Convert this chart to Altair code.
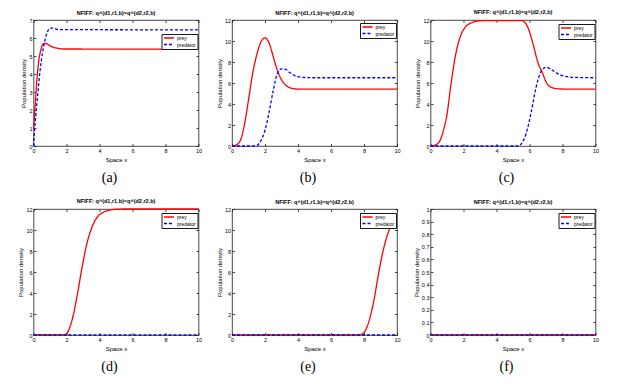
import altair as alt
import pandas as pd

FONT = "Liberation Sans"
TITLE = "NFIFF: q^(d1,r1,b)=q^(d2,r2,b)"
CAPTIONS = ["(a)", "(b)", "(c)", "(d)", "(e)", "(f)"]
SERIES = ["prey", "predator"]
COLORS = ["#ff0000", "#0000ff"]
DASHES = [[1, 0], [3, 2]]
X_TICKS = [0, 2, 4, 6, 8, 10]
Y_TICKS_A = [0, 1, 2, 3, 4, 5, 6, 7]
Y_TICKS_12 = [0, 2, 4, 6, 8, 10, 12]
Y_TICKS_F = [0, 0.1, 0.2, 0.3, 0.4, 0.5, 0.6, 0.7, 0.8, 0.9, 1]
Y_MAX = [7, 12, 12, 12, 12, 1]

# (a)
a_prey_x = [0, 0.08, 0.16, 0.3, 0.45, 0.6, 0.75, 0.9, 1.1, 1.4, 1.8, 10]
a_prey_y = [0.9, 2.0, 3.1, 4.6, 5.35, 5.68, 5.7, 5.62, 5.52, 5.44, 5.39, 5.38]
a_pred_x = [0, 0.1, 0.25, 0.4, 0.55, 0.7, 0.85, 1.0, 1.2, 1.5, 10]
a_pred_y = [0, 1.3, 2.8, 4.2, 5.2, 5.9, 6.35, 6.55, 6.55, 6.47, 6.45]
# (b)
b_prey_x = [0, 0.25, 0.5, 0.75, 1.0, 1.25, 1.5, 1.75, 2.0, 2.25, 2.5, 2.75, 3.0, 3.25, 3.5, 3.75, 4.0, 4.5, 10]
b_prey_y = [0, 0.1, 0.5, 2.0, 4.4, 6.9, 8.7, 9.9, 10.3, 9.8, 8.5, 7.2, 6.3, 5.8, 5.55, 5.45, 5.42, 5.42, 5.42]
b_pred_x = [0, 1.25, 1.5, 1.75, 2.0, 2.25, 2.5, 2.75, 3.0, 3.25, 3.5, 3.75, 4.0, 4.5, 5.0, 10]
b_pred_y = [0, 0, 0.05, 0.5, 1.5, 3.2, 5.3, 6.9, 7.35, 7.3, 7.0, 6.75, 6.6, 6.52, 6.5, 6.5]
# (c)
c_prey_x = [0, 0.3, 0.6, 0.8, 1.0, 1.2, 1.5, 1.8, 2.1, 2.5, 2.9, 3.5, 5.5, 5.7, 5.9, 6.2, 6.5, 6.8, 7.0, 7.3, 7.7, 8.3, 10]
c_prey_y = [0, 0.1, 0.6, 1.6, 3.0, 5.4, 8.5, 10.4, 11.3, 11.75, 11.9, 11.95, 11.95, 11.8, 11.3, 9.8, 8.0, 6.9, 6.1, 5.6, 5.45, 5.42, 5.42]
c_pred_x = [0, 5.3, 5.5, 5.8, 6.1, 6.4, 6.7, 7.0, 7.3, 7.7, 8.3, 9.0, 10]
c_pred_y = [0, 0, 0.2, 1.2, 3.2, 5.6, 7.1, 7.5, 7.3, 6.9, 6.6, 6.52, 6.5]
# (d)
d_prey_x = [0, 1.6, 1.9, 2.1, 2.35, 2.65, 2.95, 3.25, 3.55, 3.85, 4.25, 4.85, 5.5, 10]
d_prey_y = [0, 0, 0.05, 0.35, 1.5, 3.8, 6.5, 8.8, 10.3, 11.2, 11.7, 11.95, 12.0, 12.0]
d_pred_x = [0, 10]
d_pred_y = [0, 0]
# (e)
e_prey_x = [0, 7.6, 7.85, 8.05, 8.3, 8.6, 8.9, 9.2, 9.5, 9.8, 10]
e_prey_y = [0, 0, 0.05, 0.35, 1.3, 3.3, 6.0, 8.3, 9.9, 10.8, 11.15]
e_pred_x = [0, 10]
e_pred_y = [0, 0]
# (f)
f_prey_x = [0, 10]
f_prey_y = [0, 0]
f_pred_x = [0, 10]
f_pred_y = [0, 0]

W, H = 165, 126
TICK = 2.5

PANELS = [
    (a_prey_x, a_prey_y, a_pred_x, a_pred_y, Y_TICKS_A, 14),
    (b_prey_x, b_prey_y, b_pred_x, b_pred_y, Y_TICKS_12, 3),
    (c_prey_x, c_prey_y, c_pred_x, c_pred_y, Y_TICKS_12, 4),
    (d_prey_x, d_prey_y, d_pred_x, d_pred_y, Y_TICKS_12, 4),
    (e_prey_x, e_prey_y, e_pred_x, e_pred_y, Y_TICKS_12, 4),
    (f_prey_x, f_prey_y, f_pred_x, f_pred_y, Y_TICKS_F, 4),
]


def panel(i):
    px, py, qx, qy, yticks, ly = PANELS[i]
    df = pd.DataFrame({
        "x": px + qx,
        "y": py + qy,
        "series": ["prey"] * len(px) + ["predator"] * len(qx),
    })
    leg = alt.Legend(
        title=None, orient="none", legendX=128, legendY=ly,
        strokeColor="#1a1a1a", fillColor="white", padding=1.5,
        labelFontSize=5, labelFont=FONT, labelColor="black",
        symbolType="stroke", symbolSize=100, symbolStrokeWidth=1.3,
        clipHeight=5, rowPadding=0.5, labelOffset=2,
    )
    lines = alt.Chart(df).mark_line(strokeWidth=1.3, interpolate="monotone").encode(
        x=alt.X("x:Q", scale=alt.Scale(domain=[0, 10], nice=False, zero=False),
                axis=alt.Axis(values=X_TICKS, title="Space x", labelPadding=2,
                              titlePadding=2.5, gridDash=[TICK, H - 2 * TICK, TICK])),
        y=alt.Y("y:Q", scale=alt.Scale(domain=[0, Y_MAX[i]], nice=False),
                axis=alt.Axis(values=yticks, title="Population density", format="~g",
                              labelPadding=1.5, titlePadding=2,
                              gridDash=[TICK, W - 2 * TICK, TICK])),
        color=alt.Color("series:N", scale=alt.Scale(domain=SERIES, range=COLORS), legend=leg),
        strokeDash=alt.StrokeDash("series:N", scale=alt.Scale(domain=SERIES, range=DASHES), legend=leg),
    )
    cap = alt.Chart(pd.DataFrame({"cap": [CAPTIONS[i]]})).mark_text(
        font="Liberation Serif", fontSize=14, align="center", baseline="alphabetic", color="black"
    ).encode(x=alt.value(76), y=alt.value(H + 36), text="cap:N")
    return alt.layer(lines, cap).properties(
        width=W, height=H,
        title=alt.TitleParams(TITLE, fontSize=5.5, fontWeight="bold", font=FONT, offset=2, color="black"),
    )


chart = alt.concat(
    *[panel(i) for i in range(6)], columns=3,
    spacing={"row": 63, "column": 33.5}, bounds="flush",
).resolve_scale(color="independent", strokeDash="independent").configure(
    padding={"left": 8.5, "top": 2, "right": 5, "bottom": 5}, background="white"
).configure_view(stroke="#1a1a1a", strokeWidth=0.8).configure_axis(
    domain=False, ticks=False, grid=True, gridColor="#1a1a1a", gridWidth=0.8, gridOpacity=1,
    labelFont=FONT, titleFont=FONT, labelFontSize=5.5, titleFontSize=6,
    labelColor="black", titleColor="black", titleFontWeight="normal",
    labelFlush=False, labelOverlap=False,
)

chart.save("out.html", embed_options={"renderer": "svg", "actions": False})
